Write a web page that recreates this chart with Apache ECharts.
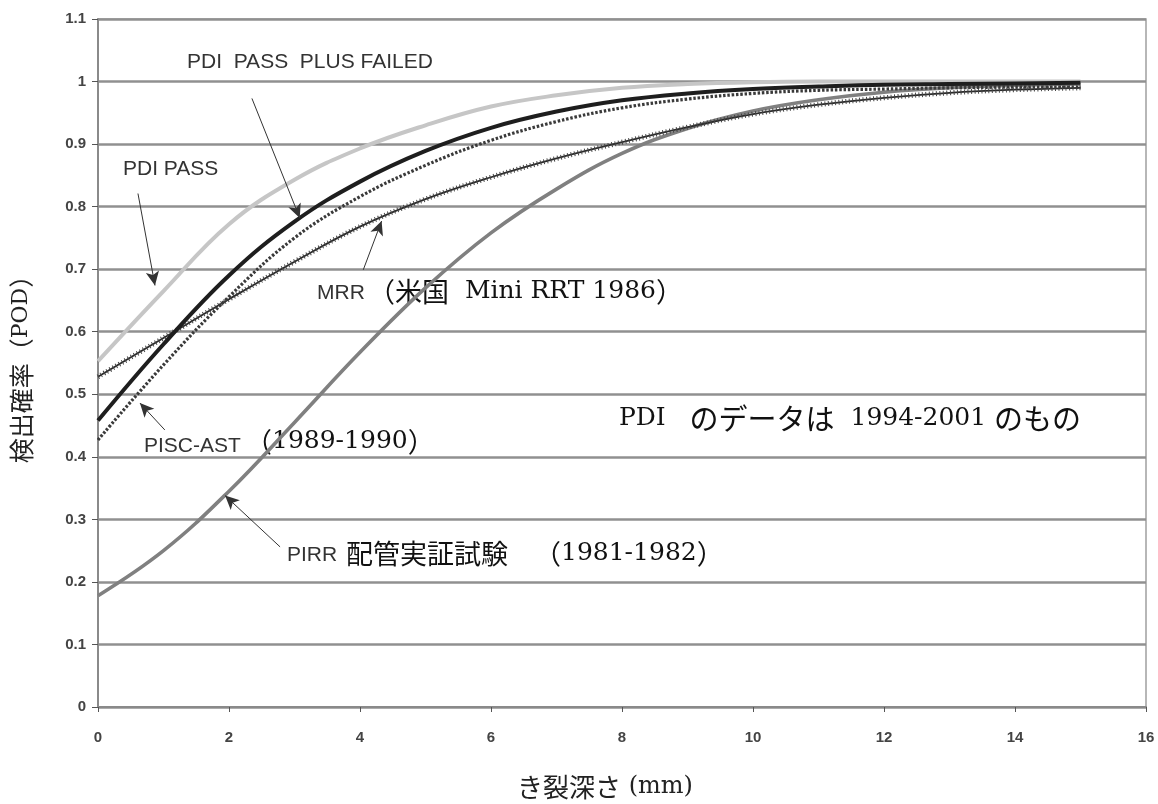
<!DOCTYPE html>
<html><head><meta charset="utf-8">
<script src="https://cdn.jsdelivr.net/npm/echarts@6/dist/echarts.min.js"></script>
<style>html,body{margin:0;padding:0;background:#fff}#c{width:1158px;height:804px}</style>
</head><body><div id="c"></div>
<script>
// crack depth (mm)
const depth            = [0,1,2,3,4,5,6,7,8,9,10,11,12,13,14,15];
const pdiPass          = [0.553,0.665,0.772,0.843,0.893,0.930,0.960,0.978,0.990,0.996,0.999,1.000,1.000,1.000,1.000,1.000];
const pdiPassPlusFail  = [0.458,0.580,0.690,0.776,0.840,0.889,0.926,0.952,0.970,0.981,0.988,0.992,0.995,0.996,0.997,0.998];
const mrr              = [0.528,0.590,0.652,0.712,0.768,0.812,0.847,0.877,0.903,0.927,0.948,0.963,0.974,0.982,0.987,0.990];
const piscAst          = [0.427,0.547,0.656,0.750,0.816,0.866,0.906,0.936,0.958,0.972,0.981,0.986,0.988,0.990,0.991,0.991];
const pirr             = [0.178,0.250,0.345,0.455,0.567,0.670,0.758,0.828,0.885,0.925,0.953,0.971,0.983,0.990,0.994,0.996];
const xTicks = [0,2,4,6,8,10,12,14,16];
const yTicks = [0,0.1,0.2,0.3,0.4,0.5,0.6,0.7,0.8,0.9,1,1.1];

const pts = a => depth.map((d,i)=>[d,a[i]]);
const sans = 'Liberation Sans, Arial, sans-serif';
const lat = 'DejaVu Serif, Liberation Serif, serif';
const jp = 'Noto Sans CJK JP, sans-serif';
const richStyles = {
  j:{fontFamily:jp,fontSize:27,fill:'#111',color:'#111'},
  l:{fontFamily:lat,fontSize:25,fill:'#111',color:'#111'},
  jb:{fontFamily:jp,fontSize:29,fill:'#111',color:'#111'}
};

function arrows(list){
  return {
    silent:true, symbol:['none','arrow'], symbolSize:[10,14],
    label:{show:false}, lineStyle:{color:'#333',width:1,type:'solid'},
    data: list.map(a=>[{coord:a[0]},{coord:a[1]}])
  };
}
function rt(left, top, text){
  return {type:'text',left,top,style:{text,rich:richStyles,fill:'#111'}};
}
function st(left, top, text){
  return {type:'text',left,top,style:{text,font:'21px '+sans,fill:'#333'}};
}
const lineBase = {type:'line',smooth:0.4,showSymbol:false};

const chart = echarts.init(document.getElementById('c'));
chart.setOption({
  animation:false,
  backgroundColor:'#fff',
  grid:{left:98,right:12,top:19,bottom:97,show:true,borderColor:'#a0a0a0',borderWidth:1.5},
  xAxis:{
    type:'value',min:0,max:16,interval:2,
    axisLine:{show:true,onZero:false,lineStyle:{color:'#8a8a8a',width:2}},
    axisTick:{show:true,inside:false,length:5,lineStyle:{color:'#555',width:1}},
    axisLabel:{color:'#444',fontFamily:sans,fontSize:15,fontWeight:'bold',margin:23,
      formatter:v=>xTicks.includes(v)?String(v):''},
    splitLine:{show:false}
  },
  yAxis:{
    type:'value',min:0,max:1.1,interval:0.1,
    axisLine:{show:true,lineStyle:{color:'#8a8a8a',width:2}},
    axisTick:{show:true,length:6,lineStyle:{color:'#555',width:1}},
    axisLabel:{color:'#444',fontFamily:sans,fontSize:15,fontWeight:'bold',margin:12,
      formatter:v=>String(+(+v).toFixed(1))},
    splitLine:{show:true,lineStyle:{color:'#909090',width:2.5}},
    name:'{j|検出確率（}{l|POD}{j|）}',nameLocation:'middle',nameGap:64,nameRotate:90,
    nameTextStyle:{color:'#222',rich:{
      j:{fontFamily:jp,fontSize:25,color:'#222'},
      l:{fontFamily:lat,fontSize:22,color:'#222'}}}
  },
  series:[
    Object.assign({name:'PDI PASS',data:pts(pdiPass),lineStyle:{color:'#c6c6c6',width:4}},lineBase),
    Object.assign({name:'PIRR',data:pts(pirr),lineStyle:{color:'#808080',width:3.6}},lineBase),
    Object.assign({name:'MRR',data:pts(mrr),lineStyle:{color:'#2a2a2a',width:1.8}},lineBase),
    Object.assign({name:'MRR marks',data:pts(mrr),lineStyle:{color:'#444',width:5,type:[1,2.5]}},lineBase),
    Object.assign({name:'PISC-AST',data:pts(piscAst),lineStyle:{color:'#3a3a3a',width:3.2,type:[2.5,1.8]}},lineBase),
    Object.assign({name:'PDI PASS PLUS FAILED',data:pts(pdiPassPlusFail),lineStyle:{color:'#1e1e1e',width:4},
      markLine:arrows([
        [[2.35,0.973],[3.08,0.782]],
        [[0.61,0.821],[0.87,0.674]],
        [[4.05,0.699],[4.33,0.777]],
        [[1.02,0.443],[0.64,0.486]],
        [[2.78,0.256],[1.94,0.338]]
      ])},lineBase)
  ],
  graphic:[
    st(187,52,'PDI  PASS  PLUS FAILED'),
    st(123,159,'PDI PASS'),
    st(317,283,'MRR'),
    rt(368,278,'{j|（米国}{l|  Mini RRT 1986}{j|）}'),
    st(144,436,'PISC-AST'),
    rt(245,428,'{j|（}{l|1989-1990}{j|）}'),
    st(287,545,'PIRR'),
    rt(346,540,'{j|配管実証試験}'),
    rt(534,540,'{j|（}{l|1981-1982}{j|）}'),
    rt(619,404,'{l|PDI   }{jb|のデータは}{l|  1994-2001 }{jb|のもの}'),
    {type:'text',left:517,top:774,style:{text:'{j|き裂深さ}{l| (mm)}',
      rich:{j:{fontFamily:jp,fontSize:26,fill:'#222'},l:{fontFamily:lat,fontSize:24,fill:'#222'}}}}
  ]
});
</script></body></html>
